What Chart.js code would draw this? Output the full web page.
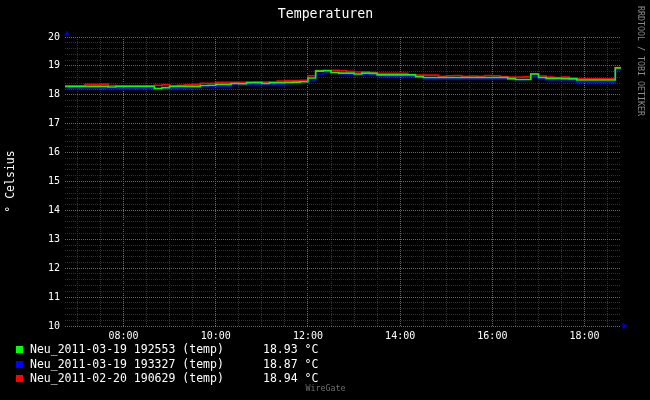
<!DOCTYPE html>
<html>
<head>
<meta charset="utf-8">
<title>Temperaturen</title>
<script src="https://cdn.jsdelivr.net/npm/chart.js@4.4.1/dist/chart.umd.min.js"></script>
<style>
    body { margin: 0; background: #000; }
    #wrap { position: relative; width: 650px; height: 400px; background: #000; overflow: hidden; }
    #chart { position: absolute; left: 0; top: 0; }
    .txt { position: absolute; font-family: 'DejaVu Sans Mono', monospace; white-space: pre; }
    #title { left: 0; width: 651px; top: 7px; text-align: center; font-size: 13.2px; line-height: 13px; color: #fff; }
    #side { left: 636px; top: 6px; writing-mode: vertical-rl; font-size: 8.3px; color: #8a8a8a; }
    #footer { left: 0; width: 651px; top: 383px; text-align: center; font-size: 8.3px; line-height: 10px; color: #6e6e6e; }
    .row { position: absolute; left: 0; height: 15px; font-family: 'DejaVu Sans Mono', monospace; font-size: 11.5px; line-height: 15px; color: #fff; white-space: pre; }
    .row .box { position: absolute; left: 16px; top: 4px; width: 7px; height: 7px; }
    .row .name { position: absolute; left: 30px; top: 0; }
    .row .val { position: absolute; left: 263px; top: 0; }
</style>
</head>
<body>
<div id="wrap">
    <canvas id="chart" width="650" height="400"></canvas>
    <div id="title" class="txt">Temperaturen</div>
    <div id="side" class="txt">RRDTOOL / TOBI OETIKER</div>
    <div id="legend"></div>
    <div id="footer" class="txt">WireGate</div>
</div>
<script>
// sample times (10 minute steps)
const times = [
    '06:40', '06:50',
    '07:00', '07:10', '07:20', '07:30', '07:40', '07:50',
    '08:00', '08:10', '08:20', '08:30', '08:40', '08:50',
    '09:00', '09:10', '09:20', '09:30', '09:40', '09:50',
    '10:00', '10:10', '10:20', '10:30', '10:40', '10:50',
    '11:00', '11:10', '11:20', '11:30', '11:40', '11:50',
    '12:00', '12:10', '12:20', '12:30', '12:40', '12:50',
    '13:00', '13:10', '13:20', '13:30', '13:40', '13:50',
    '14:00', '14:10', '14:20', '14:30', '14:40', '14:50',
    '15:00', '15:10', '15:20', '15:30', '15:40', '15:50',
    '16:00', '16:10', '16:20', '16:30', '16:40', '16:50',
    '17:00', '17:10', '17:20', '17:30', '17:40', '17:50',
    '18:00', '18:10', '18:20', '18:30', '18:40', '18:50'
];

const sensorNames = [
    'Neu_2011-03-19 192553 (temp)',
    'Neu_2011-03-19 193327 (temp)',
    'Neu_2011-02-20 190629 (temp)'
];
const sensorColors = ['#00ff00', '#0000ff', '#ff0000'];
const lastValues = [18.93, 18.87, 18.94];
const unit = '°C';

// Neu_2011-03-19 192553 (green)
const temps192553 = [
    18.29, 18.29,
    18.29, 18.29, 18.29, 18.29, 18.27, 18.29,
    18.29, 18.29, 18.29, 18.29, 18.22, 18.25,
    18.29, 18.29, 18.29, 18.29, 18.32, 18.33,
    18.36, 18.36, 18.39, 18.38, 18.42, 18.42,
    18.39, 18.42, 18.42, 18.43, 18.44, 18.45,
    18.58, 18.82, 18.83, 18.77, 18.75, 18.75,
    18.72, 18.75, 18.74, 18.69, 18.69, 18.69,
    18.69, 18.69, 18.63, 18.60, 18.60, 18.60,
    18.60, 18.60, 18.60, 18.60, 18.60, 18.60,
    18.60, 18.60, 18.56, 18.53, 18.53, 18.72,
    18.60, 18.57, 18.57, 18.56, 18.55, 18.51,
    18.51, 18.51, 18.51, 18.51, 18.93, 18.93
];

// Neu_2011-03-19 193327 (blue)
const temps193327 = [
    18.24, 18.24,
    18.24, 18.24, 18.24, 18.23, 18.21, 18.22,
    18.22, 18.22, 18.22, 18.22, 18.22, 18.22,
    18.22, 18.22, 18.24, 18.25, 18.27, 18.29,
    18.29, 18.30, 18.36, 18.36, 18.37, 18.37,
    18.37, 18.37, 18.37, 18.38, 18.39, 18.40,
    18.48, 18.72, 18.79, 18.78, 18.72, 18.71,
    18.69, 18.71, 18.69, 18.65, 18.64, 18.64,
    18.64, 18.64, 18.63, 18.56, 18.55, 18.55,
    18.55, 18.55, 18.55, 18.55, 18.55, 18.55,
    18.55, 18.55, 18.53, 18.52, 18.53, 18.62,
    18.56, 18.51, 18.51, 18.51, 18.48, 18.44,
    18.44, 18.44, 18.44, 18.44, 18.87, 18.87
];

// Neu_2011-02-20 190629 (red)
const temps190629 = [
    18.30, 18.30,
    18.30, 18.36, 18.36, 18.37, 18.32, 18.30,
    18.30, 18.30, 18.30, 18.30, 18.33, 18.35,
    18.30, 18.33, 18.35, 18.36, 18.40, 18.40,
    18.43, 18.43, 18.43, 18.43, 18.43, 18.44,
    18.44, 18.43, 18.48, 18.49, 18.49, 18.50,
    18.66, 18.84, 18.85, 18.85, 18.83, 18.81,
    18.79, 18.80, 18.77, 18.74, 18.74, 18.74,
    18.74, 18.70, 18.68, 18.68, 18.68, 18.64,
    18.66, 18.67, 18.64, 18.65, 18.64, 18.67,
    18.66, 18.63, 18.61, 18.61, 18.62, 18.72,
    18.65, 18.61, 18.60, 18.61, 18.58, 18.55,
    18.55, 18.55, 18.55, 18.55, 18.94, 18.94
];

const xTickLabels = ['08:00', '10:00', '12:00', '14:00', '16:00', '18:00'];
const yTickLabels = ['10', '11', '12', '13', '14', '15', '16', '17', '18', '19', '20'];

const MONO = "'DejaVu Sans Mono', monospace";
const GRID_MAJOR = '#686868';
const GRID_MINOR = '#a00000';

function toHours(t) {
    const [h, m] = t.split(':').map(Number);
    return h + m / 60;
}

function toPoints(values) {
    return times.map((t, i) => ({ x: toHours(t), y: values[i] }));
}

const seriesValues = [temps192553, temps193327, temps190629];

// Legend (html)
const legend = document.getElementById('legend');
sensorNames.forEach((name, i) => {
    const row = document.createElement('div');
    row.className = 'row';
    row.style.top = (342 + i * 14.7) + 'px';
    row.innerHTML = '<span class="box" style="background:' + sensorColors[i] + '"></span>' +
        '<span class="name">' + name + '</span>' +
        '<span class="val">' + lastValues[i].toFixed(2) + ' ' + unit + '</span>';
    legend.appendChild(row);
});

// small blue arrows at the axis ends, like rrdtool
const axisArrows = {
    id: 'axisArrows',
    afterDraw(chart) {
        const { ctx, chartArea } = chart;
        ctx.save();
        ctx.fillStyle = '#0000c8';
        ctx.beginPath();
        ctx.moveTo(chartArea.left + 2, chartArea.top - 6.5);
        ctx.lineTo(chartArea.left - 1, chartArea.top - 1.5);
        ctx.lineTo(chartArea.left + 5, chartArea.top - 1.5);
        ctx.closePath();
        ctx.fill();
        ctx.beginPath();
        ctx.moveTo(chartArea.right + 6.5, chartArea.bottom);
        ctx.lineTo(chartArea.right + 1.5, chartArea.bottom - 3);
        ctx.lineTo(chartArea.right + 1.5, chartArea.bottom + 3);
        ctx.closePath();
        ctx.fill();
        ctx.restore();
    }
};

const chart = new Chart(document.getElementById('chart'), {
    type: 'line',
    data: {
        datasets: seriesValues.map((vals, i) => ({
            label: sensorNames[i],
            data: toPoints(vals),
            borderColor: sensorColors[i],
            backgroundColor: sensorColors[i],
            borderWidth: 1.6,
            pointRadius: 0,
            stepped: true,
            fill: false
        }))
    },
    options: {
        responsive: false,
        animation: false,
        layout: { padding: { left: 0, right: 29, top: 37, bottom: 54 } },
        plugins: {
            legend: { display: false },
            tooltip: { enabled: false },
            title: { display: false }
        },
        scales: {
            x: {
                type: 'linear',
                min: 6.73,
                max: 18.79,
                afterFit: (scale) => { scale.height = 20; },
                afterBuildTicks: (scale) => {
                    const ticks = [];
                    for (let k = 0; k <= 23; k++) ticks.push({ value: 7 + k * 0.5 });
                    scale.ticks = ticks;
                },
                ticks: {
                    autoSkip: false,
                    maxRotation: 0,
                    padding: 4,
                    color: '#ffffff',
                    font: { family: MONO, size: 10 },
                    callback: (value) => xTickLabels.find(l => toHours(l) === value) || ''
                },
                grid: {
                    drawTicks: false,
                    lineWidth: 1,
                    color: (ctx) => (ctx.tick && ctx.tick.value % 2 === 0) ? GRID_MAJOR : GRID_MINOR
                },
                border: { display: false, dash: [1, 1] }
            },
            y: {
                type: 'linear',
                min: 10,
                max: 20,
                afterFit: (scale) => { scale.width = 65; },
                afterBuildTicks: (scale) => {
                    const ticks = [];
                    for (let k = 0; k <= 50; k++) ticks.push({ value: Math.round((10 + k * 0.2) * 10) / 10 });
                    scale.ticks = ticks;
                },
                ticks: {
                    autoSkip: false,
                    padding: 5,
                    color: '#ffffff',
                    font: { family: MONO, size: 10 },
                    callback: (value) => yTickLabels.includes(String(value)) ? String(value) : ''
                },
                grid: {
                    drawTicks: false,
                    lineWidth: 1,
                    color: (ctx) => (ctx.tick && Number.isInteger(ctx.tick.value)) ? GRID_MAJOR : GRID_MINOR
                },
                border: { display: false, dash: [1, 1] },
                title: {
                    display: true,
                    text: '° Celsius',
                    color: '#ffffff',
                    font: { family: MONO, size: 11.5 },
                    padding: { top: 4, bottom: 0 }
                }
            }
        }
    },
    plugins: [axisArrows]
});
</script>
</body>
</html>
